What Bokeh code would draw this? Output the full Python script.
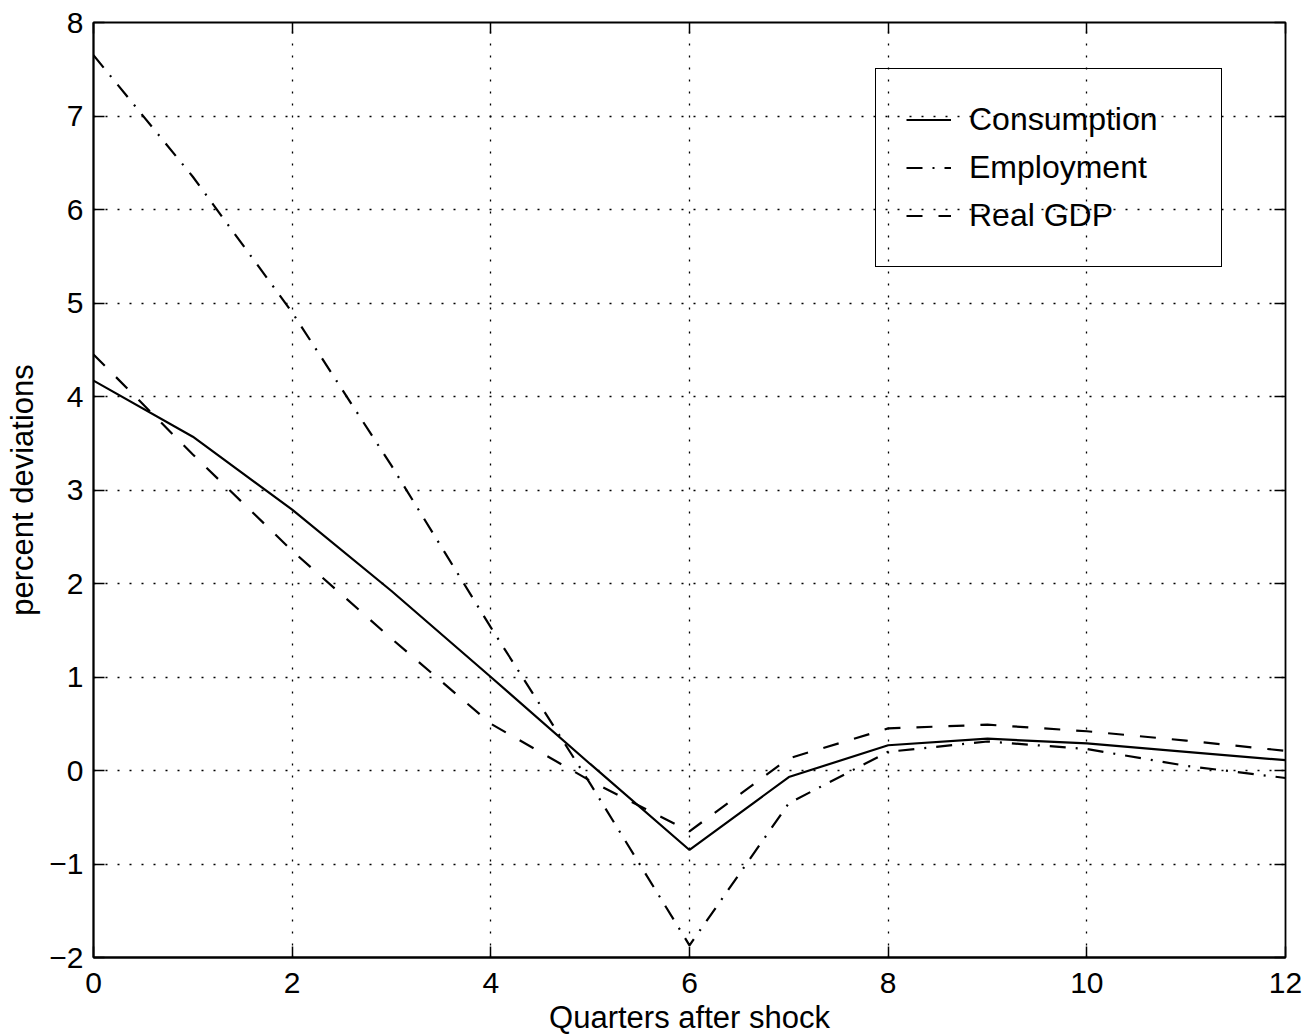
from bokeh.plotting import figure
from bokeh.models import (FixedTicker, LinearAxis, Legend, LegendItem, Range1d, CustomJSTickFormatter)
from bokeh.embed import file_html
from bokeh.resources import INLINE

quarters = [0, 1, 2, 3, 4, 5, 6, 7, 8, 9, 10, 11, 12]
consumption = [4.17, 3.57, 2.79, 1.92, 1.00, 0.07, -0.85, -0.07, 0.27, 0.34, 0.29, 0.20, 0.11]
employment = [7.65, 6.35, 4.90, 3.26, 1.53, -0.14, -1.87, -0.35, 0.20, 0.31, 0.23, 0.05, -0.08]
real_gdp = [4.45, 3.38, 2.35, 1.41, 0.50, -0.11, -0.65, 0.13, 0.45, 0.49, 0.42, 0.32, 0.21]

x_ticks = [0, 2, 4, 6, 8, 10, 12]
y_ticks = [-2, -1, 0, 1, 2, 3, 4, 5, 6, 7, 8]
y_tick_labels = {v: (str(v).replace("-", "\u2212")) for v in y_ticks}

FONT = "Liberation Sans"

p = figure(frame_width=1192, frame_height=935,
           min_border_left=93, min_border_right=24, min_border_top=22, min_border_bottom=78,
           x_range=Range1d(0, 12), y_range=Range1d(-2, 8),
           output_backend="svg", toolbar_location=None,
           background_fill_color="white", border_fill_color="white")

p.outline_line_color = "black"
p.outline_line_alpha = 1
p.outline_line_width = 1.8

for ax, ticks in ((p.xaxis[0], x_ticks), (p.yaxis[0], y_ticks)):
    ax.ticker = FixedTicker(ticks=ticks)
    ax.major_tick_in = 11
    ax.major_tick_out = 0
    ax.minor_tick_line_color = None
    ax.axis_line_color = "black"
    ax.axis_line_width = 1.8
    ax.major_tick_line_width = 1.5
    ax.major_label_text_font = FONT
    ax.major_label_text_font_size = "30px"
    ax.major_label_text_color = "black"
    ax.axis_label_text_font = FONT
    ax.axis_label_text_font_size = "31px"
    ax.axis_label_text_font_style = "normal"
    ax.axis_label_text_color = "black"

p.yaxis[0].major_label_overrides = y_tick_labels
p.xaxis[0].axis_label = "Quarters after shock"
p.yaxis[0].axis_label = "percent deviations"
p.xaxis[0].major_label_standoff = 15
p.xaxis[0].axis_label_standoff = 4
p.yaxis[0].major_label_standoff = 10
p.yaxis[0].axis_label_standoff = 6

# mirrored tick marks on top and right (no labels)
for loc, ticks in (("above", x_ticks), ("right", y_ticks)):
    ax = LinearAxis(ticker=FixedTicker(ticks=ticks),
                    formatter=CustomJSTickFormatter(code="return '';"))
    ax.major_tick_in = 11
    ax.major_tick_out = 0
    ax.major_tick_line_width = 1.5
    ax.minor_tick_line_color = None
    ax.axis_line_color = None
    ax.major_label_standoff = 0
    p.add_layout(ax, loc)

for g in (p.xgrid[0], p.ygrid[0]):
    g.grid_line_color = "black"
    g.grid_line_alpha = 1
    g.grid_line_width = 1.3
    g.grid_line_dash = "2 10"
p.xgrid[0].ticker = FixedTicker(ticks=x_ticks)
p.ygrid[0].ticker = FixedTicker(ticks=y_ticks)

r_c = p.line(quarters, consumption, line_color="black", line_width=2.2)
r_e = p.line(quarters, employment, line_color="black", line_width=2.2, line_dash="16 10 2 10")
r_g = p.line(quarters, real_gdp, line_color="black", line_width=2.2, line_dash="16 16")

legend = Legend(items=[
    LegendItem(label="Consumption", renderers=[r_c]),
    LegendItem(label="Employment", renderers=[r_e]),
    LegendItem(label="Real GDP", renderers=[r_g]),
], location=(782, 690))
legend.background_fill_alpha = 0
legend.border_line_color = "black"
legend.border_line_alpha = 1
legend.border_line_width = 1.8
legend.padding = 30
legend.margin = 0
legend.spacing = 7
legend.label_height = 41
legend.glyph_height = 41
legend.glyph_width = 45
legend.label_width = 222
legend.label_standoff = 18
legend.label_text_font = FONT
legend.label_text_font_size = "32px"
legend.label_text_color = "black"
p.add_layout(legend, "center")

open("out.html", "w").write(file_html(p, INLINE))
